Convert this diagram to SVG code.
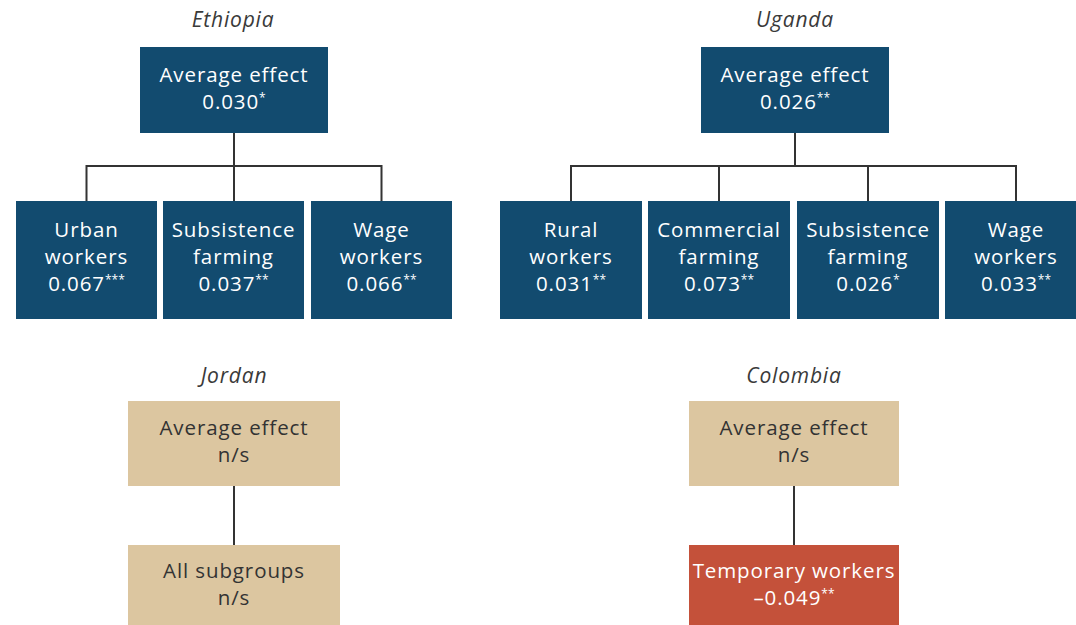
<svg xmlns="http://www.w3.org/2000/svg" width="1076" height="625" viewBox="0 0 1076 625">
<style>
.blue{fill:#124b6f}
.tan{fill:#dcc6a0}
.red{fill:#c4513a}
.t{font-family:"Open Sans","Liberation Sans",sans-serif;font-size:20.5px;letter-spacing:0.9px;text-anchor:middle}
.w{fill:#ffffff}
.d{fill:#333333}
.title{font-family:"Open Sans","Liberation Sans",sans-serif;font-size:21px;letter-spacing:0.8px;font-style:italic;text-anchor:middle;fill:#3a3a3a}
.sup{font-size:12px;letter-spacing:0}
.conn{fill:none;stroke:#333333;stroke-width:2}
</style>
<rect width="1076" height="625" fill="#ffffff"/>
<g id="titles">
<text class="title" x="233" y="27">Ethiopia</text>
<text class="title" x="795" y="27">Uganda</text>
<text class="title" x="234" y="383">Jordan</text>
<text class="title" x="794" y="383">Colombia</text>
</g>
<g id="connectors">
<path class="conn" d="M234 133V166M86.5 201V166H381.5V201M234 166V201"/>
<path class="conn" d="M795 133V166M571 201V166H1016V201M719 166V201M868 166V201"/>
<path class="conn" d="M234 486V545"/>
<path class="conn" d="M794 486V545"/>
</g>
<g id="eth-avg"><rect class="blue" x="140" y="47" width="188" height="86"/>
<text class="t w" x="234" y="82">Average effect</text>
<text class="t w" x="234" y="109">0.030<tspan class="sup" dy="-7">*</tspan></text></g>
<g id="eth-urban"><rect class="blue" x="16" y="201" width="141" height="118"/>
<text class="t w" x="86.5" y="237">Urban</text>
<text class="t w" x="86.5" y="264">workers</text>
<text class="t w" x="86.5" y="291">0.067<tspan class="sup" dy="-7">***</tspan></text></g>
<g id="eth-subsistence"><rect class="blue" x="163" y="201" width="141" height="118"/>
<text class="t w" x="233.5" y="237">Subsistence</text>
<text class="t w" x="233.5" y="264">farming</text>
<text class="t w" x="233.5" y="291">0.037<tspan class="sup" dy="-7">**</tspan></text></g>
<g id="eth-wage"><rect class="blue" x="311" y="201" width="141" height="118"/>
<text class="t w" x="381.5" y="237">Wage</text>
<text class="t w" x="381.5" y="264">workers</text>
<text class="t w" x="381.5" y="291">0.066<tspan class="sup" dy="-7">**</tspan></text></g>
<g id="uga-avg"><rect class="blue" x="701" y="47" width="188" height="86"/>
<text class="t w" x="795" y="82">Average effect</text>
<text class="t w" x="795" y="109">0.026<tspan class="sup" dy="-7">**</tspan></text></g>
<g id="uga-rural"><rect class="blue" x="500" y="201" width="142" height="118"/>
<text class="t w" x="571" y="237">Rural</text>
<text class="t w" x="571" y="264">workers</text>
<text class="t w" x="571" y="291">0.031<tspan class="sup" dy="-7">**</tspan></text></g>
<g id="uga-commercial"><rect class="blue" x="648" y="201" width="142" height="118"/>
<text class="t w" x="719" y="237">Commercial</text>
<text class="t w" x="719" y="264">farming</text>
<text class="t w" x="719" y="291">0.073<tspan class="sup" dy="-7">**</tspan></text></g>
<g id="uga-subsistence"><rect class="blue" x="797" y="201" width="142" height="118"/>
<text class="t w" x="868" y="237">Subsistence</text>
<text class="t w" x="868" y="264">farming</text>
<text class="t w" x="868" y="291">0.026<tspan class="sup" dy="-7">*</tspan></text></g>
<g id="uga-wage"><rect class="blue" x="945" y="201" width="131" height="118"/>
<text class="t w" x="1016" y="237">Wage</text>
<text class="t w" x="1016" y="264">workers</text>
<text class="t w" x="1016" y="291">0.033<tspan class="sup" dy="-7">**</tspan></text></g>
<g id="jor-avg"><rect class="tan" x="128" y="401" width="212" height="85"/>
<text class="t d" x="234" y="435">Average effect</text>
<text class="t d" x="234" y="462">n/s</text></g>
<g id="jor-all"><rect class="tan" x="128" y="545" width="212" height="80"/>
<text class="t d" x="234" y="578">All subgroups</text>
<text class="t d" x="234" y="605">n/s</text></g>
<g id="col-avg"><rect class="tan" x="689" y="401" width="210" height="85"/>
<text class="t d" x="794" y="435">Average effect</text>
<text class="t d" x="794" y="462">n/s</text></g>
<g id="col-temp"><rect class="red" x="689" y="545" width="210" height="80"/>
<text class="t w" x="794" y="578">Temporary workers</text>
<text class="t w" x="794" y="605">–0.049<tspan class="sup" dy="-7">**</tspan></text></g>
</svg>
